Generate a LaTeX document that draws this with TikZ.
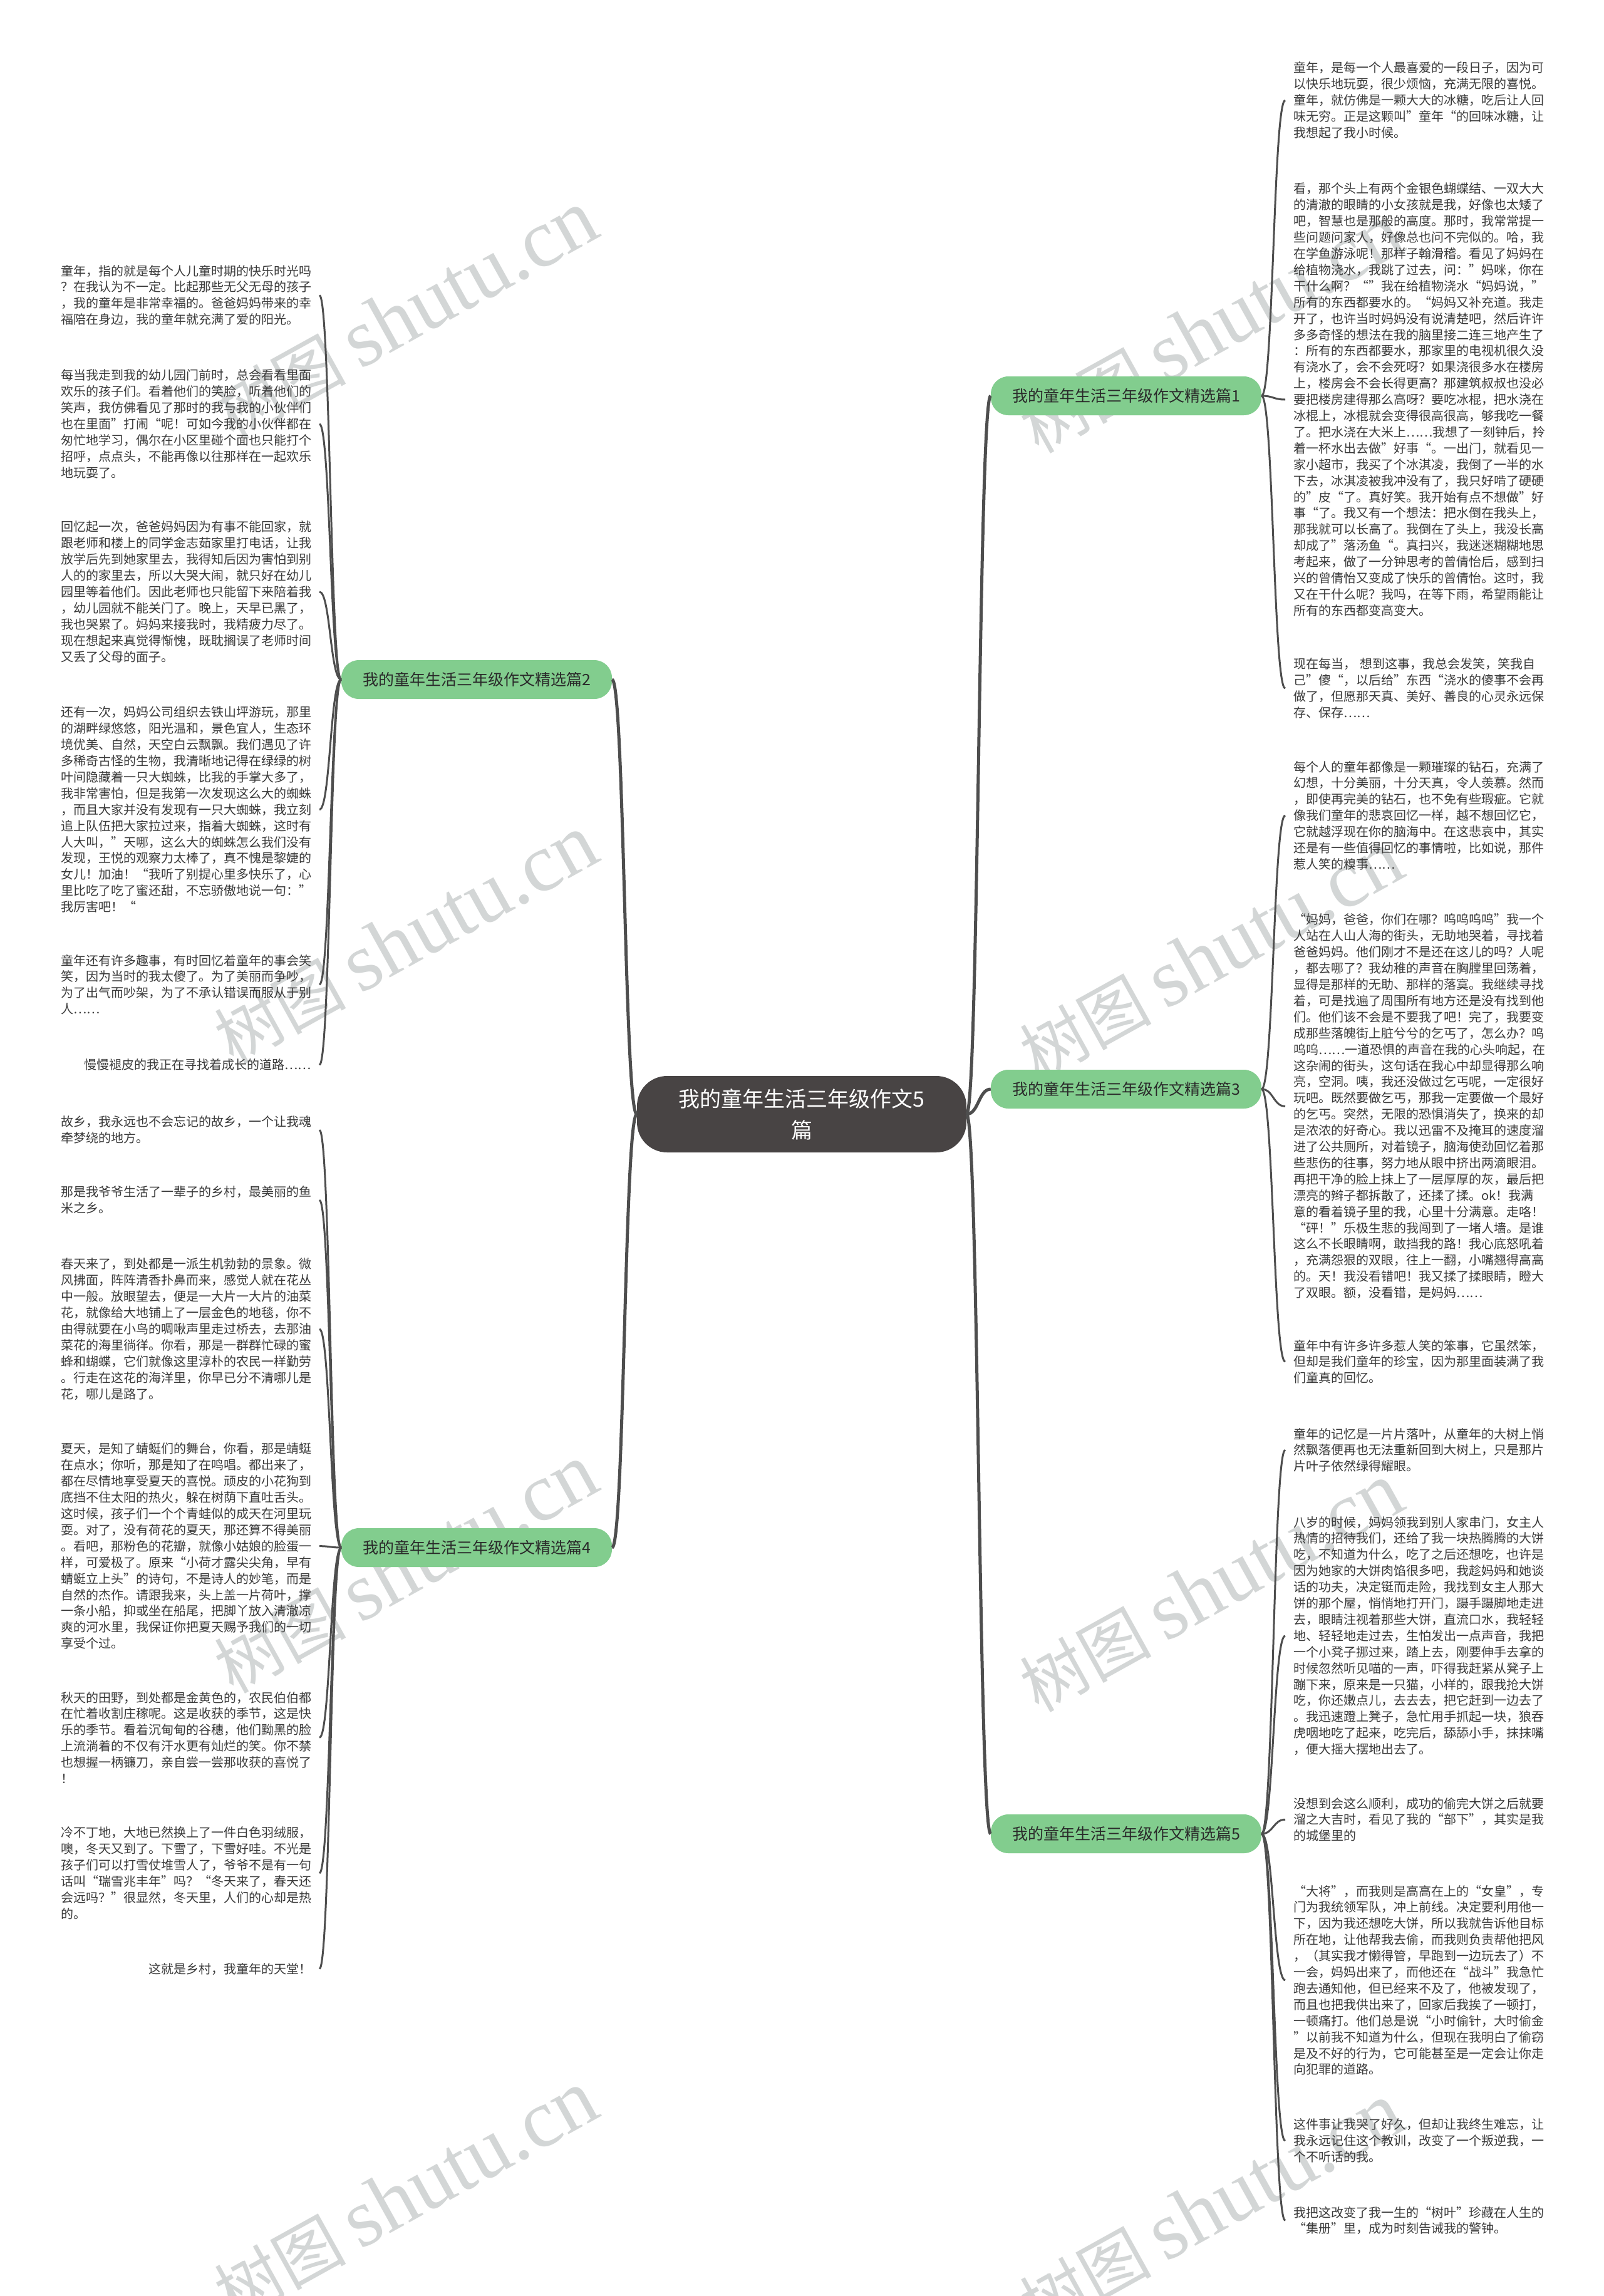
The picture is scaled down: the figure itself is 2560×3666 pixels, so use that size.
\documentclass[tikz,border=0pt]{standalone}
\usepackage{fontspec}
\newfontfamily\cjk{Noto Sans CJK SC}
\newfontfamily\wmserif{Liberation Serif}
\usetikzlibrary{calc}
\definecolor{txt}{HTML}{3A3A3A}
\definecolor{btxt}{HTML}{2A2A2A}
\definecolor{lc}{HTML}{4E4E4E}
\definecolor{bgreen}{HTML}{82CD8E}
\definecolor{cfill}{HTML}{484444}
\definecolor{wm}{HTML}{D3D6D6}
\tikzset{
  leaf/.style={text width=400pt, align=left, inner sep=0pt, outer xsep=13pt, outer ysep=0pt,
    anchor=north west, font=\cjk\fontsize{20pt}{25.9pt}\selectfont, text=txt},
  leafr/.style={leaf, align=right},
  branch/.style={rounded corners=28pt, fill=bgreen, minimum width=432pt, minimum height=62pt,
    inner sep=0pt, font=\cjk\fontsize{25pt}{28pt}\selectfont, text=btxt},
  centre/.style={rounded corners=48pt, fill=cfill, minimum width=526pt, minimum height=122pt,
    align=center, inner sep=0pt, font=\cjk\fontsize{34pt}{50pt}\selectfont, text=white},
  sc/.style={to path={let \p1=(\tikztostart), \p2=(\tikztotarget),
    \p3=($(\tikztostart)!0.5!(\tikztotarget)$) in
    .. controls (\x3,\y1) and (\x3,\y2) .. (\tikztotarget)}},
  mainc/.style={draw=lc, line width=5pt},
  leafc/.style={draw=lc, line width=3pt},
  wmark/.style={rotate=29, text=wm, inner sep=0pt}
}
\begin{document}
\begin{tikzpicture}[x=1pt,y=-1pt]
\path[use as bounding box, fill=white] (0,0) rectangle (2560,3666);
% watermarks
\foreach \wx/\wy/\wn in {648/503/w1, 648/1500/w2, 648/2505/w3, 648/3505/w4, 1934/525/w5, 1934/1525/w6, 1934/2535/w7, 1934/3525/w8}{
  \node[wmark] (\wn) at (\wx,\wy) {{\cjk\fontsize{105pt}{110pt}\selectfont 树图}\hspace{22pt}{\wmserif\fontsize{132pt}{136pt}\selectfont shutu.cn}};
}
% centre and branches
\node[centre] (c) at (1280,1779) {我的童年生活三年级作文5\\篇};
\node[branch] (b1) at (1798,632) {我的童年生活三年级作文精选篇1};
\node[branch] (b3) at (1798,1739) {我的童年生活三年级作文精选篇3};
\node[branch] (b5) at (1798,2928) {我的童年生活三年级作文精选篇5};
\node[branch] (b2) at (761,1085) {我的童年生活三年级作文精选篇2};
\node[branch] (b4) at (761,2471) {我的童年生活三年级作文精选篇4};
% left leaves, branch 2
\node[leaf] (l2a) at (84,423) {童年，指的就是每个人儿童时期的快乐时光吗\\
？在我认为不一定。比起那些无父无母的孩子\\
，我的童年是非常幸福的。爸爸妈妈带来的幸\\
福陪在身边，我的童年就充满了爱的阳光。};
\node[leaf] (l2b) at (84,590) {每当我走到我的幼儿园门前时，总会看看里面\\
欢乐的孩子们。看着他们的笑脸，听着他们的\\
笑声，我仿佛看见了那时的我与我的小伙伴们\\
也在里面”打闹“呢！可如今我的小伙伴都在\\
匆忙地学习，偶尔在小区里碰个面也只能打个\\
招呼，点点头，不能再像以往那样在一起欢乐\\
地玩耍了。};
\node[leaf] (l2c) at (84,832) {回忆起一次，爸爸妈妈因为有事不能回家，就\\
跟老师和楼上的同学金志茹家里打电话，让我\\
放学后先到她家里去，我得知后因为害怕到别\\
人的的家里去，所以大哭大闹，就只好在幼儿\\
园里等着他们。因此老师也只能留下来陪着我\\
，幼儿园就不能关门了。晚上，天早已黑了，\\
我也哭累了。妈妈来接我时，我精疲力尽了。\\
现在想起来真觉得惭愧，既耽搁误了老师时间\\
又丢了父母的面子。};
\node[leaf] (l2d) at (84,1128) {还有一次，妈妈公司组织去铁山坪游玩，那里\\
的湖畔绿悠悠，阳光温和，景色宜人，生态环\\
境优美、自然，天空白云飘飘。我们遇见了许\\
多稀奇古怪的生物，我清晰地记得在绿绿的树\\
叶间隐藏着一只大蜘蛛，比我的手掌大多了，\\
我非常害怕，但是我第一次发现这么大的蜘蛛\\
，而且大家并没有发现有一只大蜘蛛，我立刻\\
追上队伍把大家拉过来，指着大蜘蛛，这时有\\
人大叫，”天哪，这么大的蜘蛛怎么我们没有\\
发现，王悦的观察力太棒了，真不愧是黎婕的\\
女儿！加油！“我听了别提心里多快乐了，心\\
里比吃了吃了蜜还甜，不忘骄傲地说一句：”\\
我厉害吧！“};
\node[leaf] (l2e) at (84,1524) {童年还有许多趣事，有时回忆着童年的事会笑\\
笑，因为当时的我太傻了。为了美丽而争吵，\\
为了出气而吵架，为了不承认错误而服从于别\\
人……};
\node[leafr] (l2f) at (84,1691) {慢慢褪皮的我正在寻找着成长的道路……};
% left leaves, branch 4
\node[leaf] (l4a) at (84,1782) {故乡，我永远也不会忘记的故乡，一个让我魂\\
牵梦绕的地方。};
\node[leaf] (l4b) at (84,1894) {那是我爷爷生活了一辈子的乡村，最美丽的鱼\\
米之乡。};
\node[leaf] (l4c) at (84,2009) {春天来了，到处都是一派生机勃勃的景象。微\\
风拂面，阵阵清香扑鼻而来，感觉人就在花丛\\
中一般。放眼望去，便是一大片一大片的油菜\\
花，就像给大地铺上了一层金色的地毯，你不\\
由得就要在小鸟的啁啾声里走过桥去，去那油\\
菜花的海里徜徉。你看，那是一群群忙碌的蜜\\
蜂和蝴蝶，它们就像这里淳朴的农民一样勤劳\\
。行走在这花的海洋里，你早已分不清哪儿是\\
花，哪儿是路了。};
\node[leaf] (l4d) at (84,2304) {夏天，是知了蜻蜓们的舞台，你看，那是蜻蜓\\
在点水；你听，那是知了在鸣唱。都出来了，\\
都在尽情地享受夏天的喜悦。顽皮的小花狗到\\
底挡不住太阳的热火，躲在树荫下直吐舌头。\\
这时候，孩子们一个个青蛙似的成天在河里玩\\
耍。对了，没有荷花的夏天，那还算不得美丽\\
。看吧，那粉色的花瓣，就像小姑娘的脸蛋一\\
样，可爱极了。原来“小荷才露尖尖角，早有\\
蜻蜓立上头”的诗句，不是诗人的妙笔，而是\\
自然的杰作。请跟我来，头上盖一片荷叶，撑\\
一条小船，抑或坐在船尾，把脚丫放入清澈凉\\
爽的河水里，我保证你把夏天赐予我们的一切\\
享受个过。};
\node[leaf] (l4e) at (84,2701) {秋天的田野，到处都是金黄色的，农民伯伯都\\
在忙着收割庄稼呢。这是收获的季节，这是快\\
乐的季节。看着沉甸甸的谷穗，他们黝黑的脸\\
上流淌着的不仅有汗水更有灿烂的笑。你不禁\\
也想握一柄镰刀，亲自尝一尝那收获的喜悦了\\
！};
\node[leaf] (l4f) at (84,2917) {冷不丁地，大地已然换上了一件白色羽绒服，\\
噢，冬天又到了。下雪了，下雪好哇。不光是\\
孩子们可以打雪仗堆雪人了，爷爷不是有一句\\
话叫“瑞雪兆丰年”吗？“冬天来了，春天还\\
会远吗？”很显然，冬天里，人们的心却是热\\
的。};
\node[leafr] (l4g) at (84,3134) {这就是乡村，我童年的天堂！};
% right leaves, branch 1
\node[leaf] (r1a) at (2052,99) {童年，是每一个人最喜爱的一段日子，因为可\\
以快乐地玩耍，很少烦恼，充满无限的喜悦。\\
童年，就仿佛是一颗大大的冰糖，吃后让人回\\
味无穷。正是这颗叫”童年“的回味冰糖，让\\
我想起了我小时候。};
\node[leaf] (r1b) at (2052,292) {看，那个头上有两个金银色蝴蝶结、一双大大\\
的清澈的眼睛的小女孩就是我，好像也太矮了\\
吧，智慧也是那般的高度。那时，我常常提一\\
些问题问家人，好像总也问不完似的。哈，我\\
在学鱼游泳呢！那样子翰滑稽。看见了妈妈在\\
给植物浇水，我跳了过去，问：”妈咪，你在\\
干什么啊？“”我在给植物浇水“妈妈说，”\\
所有的东西都要水的。“妈妈又补充道。我走\\
开了，也许当时妈妈没有说清楚吧，然后许许\\
多多奇怪的想法在我的脑里接二连三地产生了\\
：所有的东西都要水，那家里的电视机很久没\\
有浇水了，会不会死呀？如果浇很多水在楼房\\
上，楼房会不会长得更高？那建筑叔叔也没必\\
要把楼房建得那么高呀？要吃冰棍，把水浇在\\
冰棍上，冰棍就会变得很高很高，够我吃一餐\\
了。把水浇在大米上……我想了一刻钟后，拎\\
着一杯水出去做”好事“。一出门，就看见一\\
家小超市，我买了个冰淇凌，我倒了一半的水\\
下去，冰淇凌被我冲没有了，我只好啃了硬硬\\
的”皮“了。真好笑。我开始有点不想做”好\\
事“了。我又有一个想法：把水倒在我头上，\\
那我就可以长高了。我倒在了头上，我没长高\\
却成了”落汤鱼“。真扫兴，我迷迷糊糊地思\\
考起来，做了一分钟思考的曾倩怡后，感到扫\\
兴的曾倩怡又变成了快乐的曾倩怡。这时，我\\
又在干什么呢？我吗，在等下雨，希望雨能让\\
所有的东西都变高变大。};
\node[leaf] (r1c) at (2052,1051) {现在每当， 想到这事，我总会发笑，笑我自\\
己”傻“，以后给”东西“浇水的傻事不会再\\
做了，但愿那天真、美好、善良的心灵永远保\\
存、保存……};
% right leaves, branch 3
\node[leaf] (r3a) at (2052,1215) {每个人的童年都像是一颗璀璨的钻石，充满了\\
幻想，十分美丽，十分天真，令人羡慕。然而\\
，即使再完美的钻石，也不免有些瑕疵。它就\\
像我们童年的悲哀回忆一样，越不想回忆它，\\
它就越浮现在你的脑海中。在这悲哀中，其实\\
还是有一些值得回忆的事情啦，比如说，那件\\
惹人笑的糗事……};
\node[leaf] (r3b) at (2052,1459) {“妈妈，爸爸，你们在哪？呜呜呜呜”我一个\\
人站在人山人海的街头，无助地哭着，寻找着\\
爸爸妈妈。他们刚才不是还在这儿的吗？人呢\\
，都去哪了？我幼稚的声音在胸膛里回荡着，\\
显得是那样的无助、那样的落寞。我继续寻找\\
着，可是找遍了周围所有地方还是没有找到他\\
们。他们该不会是不要我了吧！完了，我要变\\
成那些落魄街上脏兮兮的乞丐了，怎么办？呜\\
呜呜……一道恐惧的声音在我的心头响起，在\\
这杂闹的街头，这句话在我心中却显得那么响\\
亮，空洞。咦，我还没做过乞丐呢，一定很好\\
玩吧。既然要做乞丐，那我一定要做一个最好\\
的乞丐。突然，无限的恐惧消失了，换来的却\\
是浓浓的好奇心。我以迅雷不及掩耳的速度溜\\
进了公共厕所，对着镜子，脑海使劲回忆着那\\
些悲伤的往事，努力地从眼中挤出两滴眼泪。\\
再把干净的脸上抹上了一层厚厚的灰，最后把\\
漂亮的辫子都拆散了，还揉了揉。ok！我满\\
意的看着镜子里的我，心里十分满意。走咯！\\
“砰！”乐极生悲的我闯到了一堵人墙。是谁\\
这么不长眼睛啊，敢挡我的路！我心底怒吼着\\
，充满怨狠的双眼，往上一翻，小嘴翘得高高\\
的。天！我没看错吧！我又揉了揉眼睛，瞪大\\
了双眼。额，没看错，是妈妈……};
\node[leaf] (r3c) at (2052,2139) {童年中有许多许多惹人笑的笨事，它虽然笨，\\
但却是我们童年的珍宝，因为那里面装满了我\\
们童真的回忆。};
% right leaves, branch 5
\node[leaf] (r5a) at (2052,2280) {童年的记忆是一片片落叶，从童年的大树上悄\\
然飘落便再也无法重新回到大树上，只是那片\\
片叶子依然绿得耀眼。};
\node[leaf] (r5b) at (2052,2421) {八岁的时候，妈妈领我到别人家串门，女主人\\
热情的招待我们，还给了我一块热腾腾的大饼\\
吃，不知道为什么，吃了之后还想吃，也许是\\
因为她家的大饼肉馅很多吧，我趁妈妈和她谈\\
话的功夫，决定铤而走险，我找到女主人那大\\
饼的那个屋，悄悄地打开门，蹑手蹑脚地走进\\
去，眼睛注视着那些大饼，直流口水，我轻轻\\
地、轻轻地走过去，生怕发出一点声音，我把\\
一个小凳子挪过来，踏上去，刚要伸手去拿的\\
时候忽然听见喵的一声，吓得我赶紧从凳子上\\
蹦下来，原来是一只猫，小样的，跟我抢大饼\\
吃，你还嫩点儿，去去去，把它赶到一边去了\\
。我迅速蹬上凳子，急忙用手抓起一块，狼吞\\
虎咽地吃了起来，吃完后，舔舔小手，抹抹嘴\\
，便大摇大摆地出去了。};
\node[leaf] (r5c) at (2052,2870) {没想到会这么顺利，成功的偷完大饼之后就要\\
溜之大吉时，看见了我的“部下”，其实是我\\
的城堡里的};
\node[leaf] (r5d) at (2052,3010) {“大将”，而我则是高高在上的“女皇”，专\\
门为我统领军队，冲上前线。决定要利用他一\\
下，因为我还想吃大饼，所以我就告诉他目标\\
所在地，让他帮我去偷，而我则负责帮他把风\\
，（其实我才懒得管，早跑到一边玩去了）不\\
一会，妈妈出来了，而他还在“战斗”我急忙\\
跑去通知他，但已经来不及了，他被发现了，\\
而且也把我供出来了，回家后我挨了一顿打，\\
一顿痛打。他们总是说“小时偷针，大时偷金\\
”以前我不知道为什么，但现在我明白了偷窃\\
是及不好的行为，它可能甚至是一定会让你走\\
向犯罪的道路。};
\node[leaf] (r5e) at (2052,3383) {这件事让我哭了好久，但却让我终生难忘，让\\
我永远记住这个教训，改变了一个叛逆我，一\\
个不听话的我。};
\node[leaf] (r5f) at (2052,3523) {我把这改变了我一生的“树叶”珍藏在人生的\\
“集册”里，成为时刻告诫我的警钟。};
% connectors centre -> branches
\draw[mainc] (c.east) to[sc] (b1.west);
\draw[mainc] (c.east) to[sc] (b3.west);
\draw[mainc] (c.east) to[sc] (b5.west);
\draw[mainc] (c.west) to[sc] (b2.east);
\draw[mainc] (c.west) to[sc] (b4.east);
% branch -> leaves
\foreach \l in {l2a,l2b,l2c,l2d,l2e,l2f}{\draw[leafc] (b2.west) to[sc] (\l.east);}
\foreach \l in {l4a,l4b,l4c,l4d,l4e,l4f,l4g}{\draw[leafc] (b4.west) to[sc] (\l.east);}
\foreach \l in {r1a,r1b,r1c}{\draw[leafc] (b1.east) to[sc] (\l.west);}
\foreach \l in {r3a,r3b,r3c}{\draw[leafc] (b3.east) to[sc] (\l.west);}
\foreach \l in {r5a,r5b,r5c,r5d,r5e,r5f}{\draw[leafc] (b5.east) to[sc] (\l.west);}
\end{tikzpicture}
\end{document}
